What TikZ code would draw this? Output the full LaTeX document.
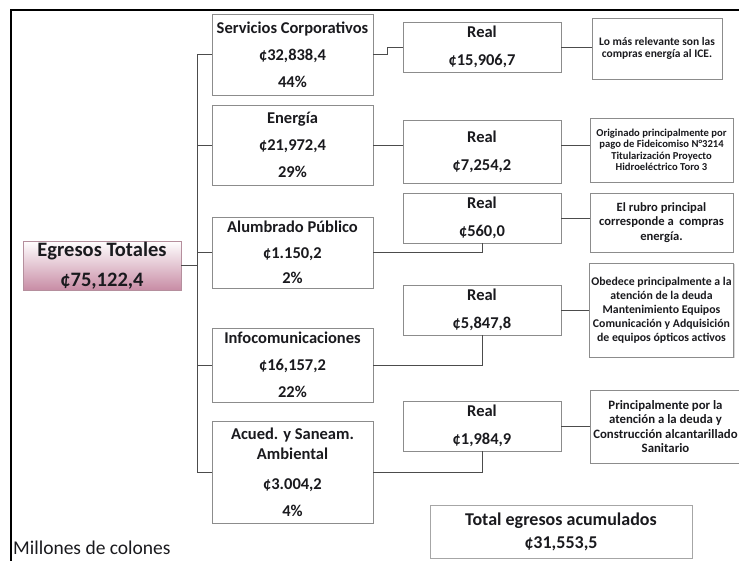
\documentclass[tikz,border=0pt]{standalone}
\usepackage{fontspec}
\setmainfont{Carlito}
\usetikzlibrary{shadows}
\definecolor{egrpink}{RGB}{200,140,165}
\definecolor{egredge}{RGB}{150,95,115}
\definecolor{inkgray}{RGB}{26,26,30}

\begin{document}
\begin{tikzpicture}[x=1pt,y=-1pt,
    box/.style={draw=black!45, fill=white, align=center, inner sep=2pt, text=inkgray,
        drop shadow={shadow xshift=1pt,shadow yshift=-1.2pt,opacity=0.3}},
    area/.style={box, minimum width=161pt, font=\bfseries\fontsize{16.5}{27}\selectfont},
    real/.style={box, minimum width=158pt, minimum height=50pt, font=\bfseries\fontsize{16.5}{28}\selectfont},
    note/.style={box, minimum width=143pt},
    link/.style={draw=black!70, line width=0.8pt}]
    \useasboundingbox (0,0) rectangle (739,561);

    % Frame
    \draw[line width=2pt] (739,10) -- (11,10) -- (11,561);

    % Total
    \node[draw=egredge!70, top color=white, middle color=white!88!egrpink, bottom color=egrpink, align=center, text=inkgray,
        minimum width=158pt, minimum height=49pt, inner sep=1pt,
        font=\bfseries\fontsize{20.5}{30}\selectfont] (egr) at (102,265.5) {Egresos Totales\\¢75,122,4};

    % Areas
    \node[area, minimum height=81pt] (svc) at (292.5,54.5) {Servicios Corporativos\\¢32,838,4\\44\%};
    \node[area, minimum height=80pt] (ene) at (292.5,145) {Energía\\¢21,972,4\\29\%};
    \node[area, minimum height=71pt, font=\bfseries\fontsize{16.5}{25.5}\selectfont] (alu) at (292.5,252.5) {Alumbrado Público\\¢1.150,2\\2\%};
    \node[area, minimum height=74pt] (inf) at (292.5,365) {Infocomunicaciones\\¢16,157,2\\22\%};
    \node[area, minimum height=102pt] (acu) at (292.5,472) {Acued. y Saneam.\\[-7pt]Ambiental\\[3pt]¢3.004,2\\4\%};

    % Real
    \node[real] (real1) at (482,47) {Real\\¢15,906,7};
    \node[real, minimum height=63pt] (real2) at (482,151.5) {Real\\¢7,254,2};
    \node[real] (real3) at (482,218) {Real\\¢560,0};
    \node[real] (real4) at (482,310) {Real\\¢5,847,8};
    \node[real] (real5) at (482,426) {Real\\¢1,984,9};

    % Notes
    \node[note, minimum width=130pt, minimum height=61pt, font=\bfseries\fontsize{11.5}{12}\selectfont] (note1) at (657,48.5)
        {Lo más relevante son las\\compras energía al ICE.};
    \node[note, minimum height=64pt, font=\bfseries\fontsize{10.6}{11.5}\selectfont] (note2) at (661.5,150)
        {Originado principalmente por\\pago de Fideicomiso N°3214\\Titularización Proyecto\\Hidroeléctrico Toro 3};
    \node[note, minimum height=59pt, font=\bfseries\fontsize{12.6}{14.5}\selectfont] (note3) at (661.5,222.5)
        {El rubro principal\\corresponde a \ compras\\energía.};
    \node[note, minimum height=94pt, font=\bfseries\fontsize{11.8}{14}\selectfont] (note4) at (661.5,310)
        {Obedece principalmente a la\\atención de la deuda\\Mantenimiento Equipos\\Comunicación y Adquisición\\de equipos ópticos activos};
    \node[note, minimum width=151pt, minimum height=73pt, font=\bfseries\fontsize{12.8}{14.5}\selectfont] (note5) at (665.5,426.5)
        {Principalmente por la\\atención a la deuda y\\Construcción alcantarillado\\Sanitario};

    % Accumulated
    \node[draw=black!35, fill=white, align=center, text=inkgray, minimum width=262pt, minimum height=53pt,
        font=\bfseries\fontsize{18}{23}\selectfont] (tot) at (561,531.5) {Total egresos acumulados\\¢31,553,5};
    \node[anchor=west, inner sep=0pt, text=inkgray, font=\fontsize{19.5}{20}\selectfont] (mill) at (13,548) {Millones de colones};

    % Spine
    \coordinate (sp) at (197,265.5);
    \draw[link] (egr.east) -- (sp);
    \draw[link] (svc.west -| sp) -- (acu.west -| sp);
    \foreach \nm in {svc,ene,alu,inf,acu}
        \draw[link] (\nm.west) -- (\nm.west -| sp);

    % Areas to real
    \draw[link] (svc.east) -- ++(14,0) |- (real1.west);
    \draw[link] (ene.east) -- (ene.east -| real2.west);
    \foreach \ar/\rl in {alu/real3, inf/real4, acu/real5}
        \draw[link] (\ar.east) -| (\rl.south);

    % Real to notes
    \draw[link] (real1.east) -- (real1.east -| note1.west);
    \draw[link] (ene.east -| real2.east) -- (ene.east -| note2.west);
    \foreach \rl/\nt in {real3/note3, real4/note4, real5/note5}
        \draw[link] (\rl.east) -- (\rl.east -| \nt.west);
\end{tikzpicture}
\end{document}
